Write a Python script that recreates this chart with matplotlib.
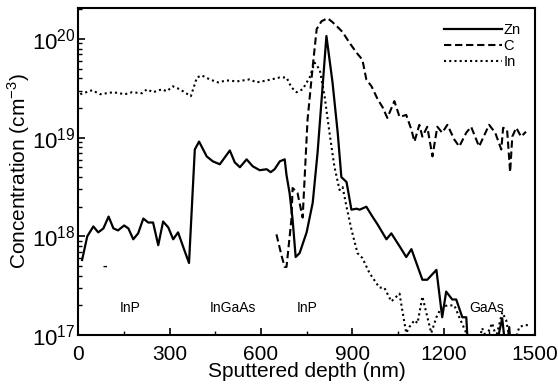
import matplotlib.pyplot as plt
import matplotlib.ticker as mticker
import numpy as np

plt.rcParams['font.family'] = ['Liberation Sans', 'DejaVu Sans']
plt.rcParams['mathtext.fontset'] = 'custom'
plt.rcParams['mathtext.rm'] = 'Liberation Sans'

# Zn profile (depth nm, log10 concentration)
zn_x = [13, 30, 50, 66, 83, 100, 116, 131, 151, 165, 181, 197, 214, 230, 246, 263, 279,
        296, 312, 328, 351, 364, 383, 397, 422, 442, 465, 498, 514, 531, 553, 573, 596,
        619, 632, 645, 662, 678, 684, 694, 704, 714, 727, 750, 770, 786, 815, 835, 852,
        864, 881, 897, 914, 924, 946, 966, 983, 1012, 1028, 1055, 1077, 1094, 1130, 1146,
        1176, 1195, 1208, 1228, 1241, 1261, 1274, 1285, 1320, 1360, 1380, 1392, 1405,
        1415, 1421, 1430]
zn_log = [17.76, 18.00, 18.10, 18.04, 18.08, 18.20, 18.08, 18.06, 18.11, 18.08, 17.97,
          18.03, 18.18, 18.14, 18.14, 17.91, 18.15, 18.09, 17.97, 18.04, 17.84, 17.73,
          18.88, 18.96, 18.81, 18.76, 18.73, 18.87, 18.75, 18.70, 18.78, 18.71, 18.67,
          18.68, 18.65, 18.68, 18.76, 18.78, 18.62, 18.44, 18.17, 17.79, 17.83, 18.04,
          18.34, 18.85, 20.03, 19.56, 19.05, 18.60, 18.55, 18.27, 18.28, 18.27, 18.30,
          18.20, 18.12, 17.97, 18.03, 17.90, 17.79, 17.87, 17.56, 17.56, 17.66, 17.18,
          17.44, 17.36, 17.36, 17.18, 17.18, 16.6, 16.6, 16.6, 17.0, 17.17, 16.8, 17.08,
          16.8, 16.6]

# C profile
c_x = [651, 668, 678, 684, 700, 704, 720, 737, 753, 770, 783, 799, 819, 835, 852, 868,
       891, 914, 933, 946, 963, 983, 999, 1015, 1038, 1055, 1077, 1094, 1104, 1120, 1130,
       1146, 1163, 1179, 1195, 1212, 1235, 1251, 1274, 1290, 1316, 1349, 1369, 1389,
       1395, 1408, 1418, 1425, 1438, 1454, 1470]
c_log = [18.02, 17.80, 17.69, 17.69, 18.17, 18.49, 18.44, 18.19, 19.18, 19.72, 20.10,
         20.18, 20.21, 20.17, 20.12, 20.07, 19.96, 19.86, 19.79, 19.59, 19.52, 19.39,
         19.31, 19.20, 19.37, 19.21, 19.23, 19.08, 18.96, 19.13, 19.01, 19.11, 18.81,
         19.11, 19.05, 19.13, 18.98, 18.91, 19.05, 19.11, 18.91, 19.13, 19.05, 18.88,
         19.10, 19.08, 18.65, 19.01, 19.10, 19.01, 19.06]

# In profile
in_x = [7, 46, 72, 115, 154, 177, 210, 226, 246, 275, 291, 311, 334, 370, 390, 406, 432,
        459, 488, 521, 563, 586, 620, 662, 684, 700, 717, 737, 760, 776, 793, 809, 825,
        841, 858, 868, 881, 897, 917, 933, 956, 989, 1005, 1028, 1055, 1064, 1077, 1087,
        1104, 1114, 1130, 1159, 1176, 1192, 1212, 1235, 1251, 1274, 1300, 1326, 1339,
        1359, 1372, 1392, 1405, 1415, 1438, 1448, 1464, 1480]
in_log = [19.44, 19.48, 19.44, 19.46, 19.44, 19.46, 19.45, 19.49, 19.46, 19.49, 19.47,
          19.52, 19.49, 19.42, 19.61, 19.63, 19.59, 19.56, 19.58, 19.57, 19.59, 19.56,
          19.58, 19.61, 19.61, 19.51, 19.46, 19.49, 19.61, 19.76, 19.69, 19.42, 19.05,
          18.71, 18.47, 18.50, 18.30, 18.07, 17.83, 17.78, 17.63, 17.48, 17.48, 17.34,
          17.42, 17.25, 17.02, 17.08, 17.15, 17.12, 17.39, 17.02, 17.18, 17.28, 17.30,
          17.30, 17.18, 17.02, 16.7, 17.07, 16.98, 17.12, 16.98, 17.23, 17.15, 16.98,
          16.98, 17.08, 17.10, 17.10]

layers = ['InP', 'InGaAs', 'InP', 'GaAs']
layer_x = [170, 508, 753, 1340]

fig = plt.figure(figsize=(5.58, 3.9), dpi=100)
ax = fig.add_axes([0.14, 0.141, 0.819, 0.838])

ax.plot(zn_x, 10 ** np.array(zn_log), color='black', lw=1.6, ls='-', label='Zn')
ax.plot(c_x, 10 ** np.array(c_log), color='black', lw=1.5, ls=(0, (3.5, 1.8)), label='C')
ax.plot(in_x, 10 ** np.array(in_log), color='black', lw=1.5, ls=(0, (1, 1.5)), label='In')

ax.set_yscale('log')
ax.set_xlim(0, 1500)
ax.set_ylim(1e17, 2.05e20)

for name, xp in zip(layers, layer_x):
    ax.text(xp, 1.9e17, name, ha='center', va='center', fontsize=10)
ax.text(88, 5e17, '-', ha='center', va='center', fontsize=10, fontweight='bold')

ax.xaxis.set_major_locator(mticker.MultipleLocator(300))
ax.xaxis.set_minor_locator(mticker.MultipleLocator(150))
ax.tick_params(which='both', direction='in', top=False, right=False)
ax.tick_params(which='major', length=5, width=1.2)
ax.tick_params(which='minor', length=3, width=1)
ax.tick_params(axis='x', labelsize=15, pad=7)
ax.tick_params(axis='y', labelsize=16, pad=2)

for s in ax.spines.values():
    s.set_linewidth(1.5)

ax.set_xlabel('Sputtered depth (nm)', fontsize=15, labelpad=-1)
ax.set_ylabel('Concentration (cm$^{-3}$)', fontsize=15)
ax.yaxis.set_label_coords(-0.1, 0.5)

ax.legend(loc='upper right', frameon=False, fontsize=10.5, handlelength=4,
          handletextpad=0.1, labelspacing=0.15, borderaxespad=0.6)

fig.savefig('out.png', dpi=100)
